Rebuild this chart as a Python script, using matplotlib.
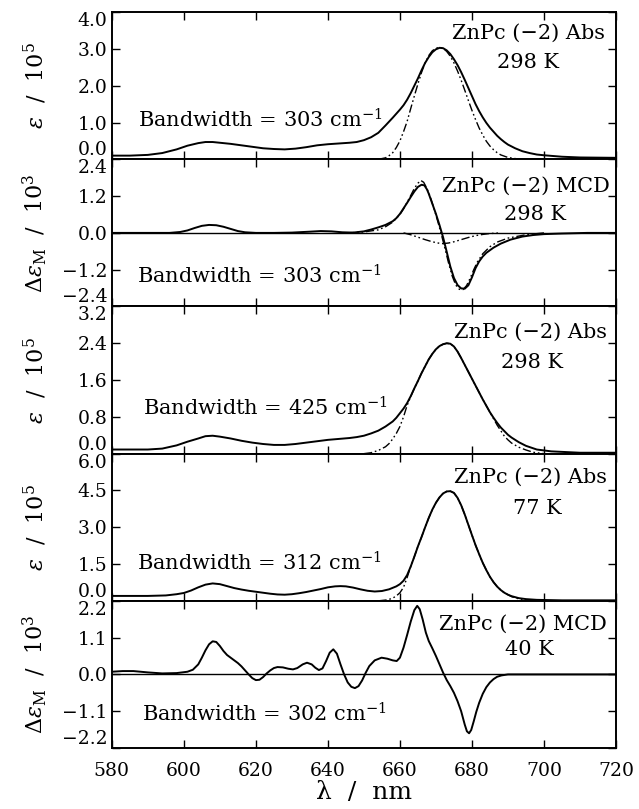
import matplotlib
matplotlib.use("Agg")
import matplotlib.pyplot as plt

plt.rcParams['font.family'] = 'DejaVu Serif'
plt.rcParams['mathtext.fontset'] = 'dejavuserif'

# --- ZnPc(-2) Abs, 298 K, bandwidth 303 cm-1 ---
wl_abs1 = [580, 585, 590, 594, 598, 601, 604, 606, 608, 610, 613, 616, 619, 622,
           625, 628, 631, 634, 637, 640, 643, 646, 648, 650, 652, 654, 656, 658,
           660, 661, 662, 663, 664, 665, 666, 667, 668, 669, 670, 671, 672, 673,
           674, 675, 676, 677, 678, 679, 680, 681, 682, 683, 684, 685, 686, 687,
           688, 689, 690, 692, 694, 696, 698, 700, 705, 710, 720]
eps_abs1 = [0.10, 0.10, 0.12, 0.17, 0.27, 0.37, 0.44, 0.47, 0.47, 0.45, 0.42, 0.38,
            0.34, 0.30, 0.28, 0.27, 0.29, 0.33, 0.38, 0.41, 0.43, 0.45, 0.47, 0.52,
            0.60, 0.72, 0.92, 1.13, 1.35, 1.47, 1.62, 1.80, 2.00, 2.20, 2.42, 2.62,
            2.78, 2.91, 2.99, 3.03, 3.02, 2.96, 2.86, 2.72, 2.56, 2.37, 2.16, 1.94,
            1.72, 1.50, 1.31, 1.14, 0.99, 0.86, 0.75, 0.64, 0.55, 0.47, 0.40, 0.30,
            0.22, 0.17, 0.13, 0.11, 0.07, 0.05, 0.04]
wl_fit1 = [654, 656, 657, 658, 659, 660, 661, 662, 663, 664, 665, 666, 667, 668,
           669, 670, 671, 672, 673, 674, 675, 676, 677, 678, 679, 680, 681, 682,
           683, 684, 685, 686, 687, 688, 690, 692, 694]
eps_fit1 = [0.0, 0.04, 0.10, 0.18, 0.32, 0.50, 0.75, 1.03, 1.38, 1.72, 2.05, 2.36,
            2.62, 2.82, 2.95, 3.02, 3.04, 3.02, 2.93, 2.80, 2.62, 2.40, 2.15, 1.88,
            1.60, 1.33, 1.08, 0.85, 0.66, 0.49, 0.36, 0.26, 0.18, 0.12, 0.05, 0.02,
            0.0]

# --- ZnPc(-2) MCD, 298 K, bandwidth 303 cm-1 ---
wl_mcd1 = [580, 596, 599, 601, 603, 605, 607, 609, 611, 613, 615, 617, 620, 625,
           630, 635, 638, 641, 644, 647, 650, 652, 654, 656, 658, 659, 660, 661,
           662, 663, 664, 665, 666, 666.8, 667.5, 668, 669, 670, 671, 672, 673,
           674, 675, 676, 677, 678, 679, 680, 681, 682, 683, 684, 686, 688, 690.7,
           694, 697, 700, 705, 712, 720]
dem_mcd1 = [0.0, 0.0, 0.03, 0.08, 0.16, 0.23, 0.26, 0.25, 0.20, 0.13, 0.06, 0.02,
            0.0, 0.0, 0.01, 0.04, 0.06, 0.05, 0.02, 0.01, 0.05, 0.11, 0.18, 0.26,
            0.38, 0.48, 0.62, 0.80, 0.98, 1.17, 1.35, 1.50, 1.57, 1.55, 1.42, 1.28,
            0.95, 0.62, 0.25, -0.15, -0.62, -1.10, -1.47, -1.70, -1.81, -1.82, -1.71,
            -1.45, -1.15, -0.93, -0.77, -0.65, -0.48, -0.35, -0.22, -0.12, -0.07,
            -0.04, -0.02, 0.0, 0.0]
wl_afit = [645, 650, 654, 656, 658, 660, 661, 662, 663, 664, 665, 665.8, 666.6,
           667.5, 668.5, 669.5, 670.5, 671.5, 672.5, 673.5, 674.5, 675.5, 676.5,
           677.5, 678.5, 679.5, 680.5, 681.5, 683, 685, 687, 690, 695, 700]
dem_afit = [0.0, 0.03, 0.10, 0.20, 0.35, 0.60, 0.78, 1.00, 1.22, 1.45, 1.62, 1.71,
            1.65, 1.45, 1.15, 0.78, 0.38, -0.05, -0.50, -0.98, -1.40, -1.70, -1.84,
            -1.85, -1.72, -1.48, -1.20, -0.95, -0.68, -0.45, -0.30, -0.17, -0.06,
            0.0]
wl_bfit = [661, 663, 665, 667, 669, 671, 672, 673.5, 675, 677, 679, 681, 683, 685,
           688]
dem_bfit = [0.0, -0.06, -0.14, -0.22, -0.29, -0.34, -0.35, -0.33, -0.29, -0.22,
            -0.15, -0.09, -0.05, -0.02, 0.0]

# --- ZnPc(-2) Abs, 298 K, bandwidth 425 cm-1 ---
wl_abs2 = [580, 590, 594, 598, 601, 604, 606, 608, 610, 613, 616, 619, 622, 625,
           628, 631, 634, 637, 640, 643, 646, 648, 650, 652, 654, 656, 658, 659,
           660, 661, 662, 663, 664, 665, 666, 667, 668, 669, 670, 671, 672, 673,
           674, 675, 676, 677, 678, 679, 680, 681, 682, 683, 684, 685, 686, 687,
           688, 689, 690, 691, 693, 695, 698, 702, 710, 720]
eps_abs2 = [0.09, 0.09, 0.11, 0.18, 0.26, 0.33, 0.38, 0.39, 0.37, 0.33, 0.28, 0.24,
            0.21, 0.19, 0.19, 0.21, 0.24, 0.27, 0.30, 0.32, 0.34, 0.36, 0.39, 0.44,
            0.50, 0.59, 0.70, 0.78, 0.88, 0.98, 1.10, 1.25, 1.42, 1.58, 1.75, 1.90,
            2.05, 2.17, 2.27, 2.34, 2.38, 2.40, 2.39, 2.33, 2.22, 2.08, 1.93, 1.78,
            1.63, 1.48, 1.33, 1.18, 1.04, 0.90, 0.78, 0.67, 0.57, 0.49, 0.41, 0.35,
            0.25, 0.17, 0.09, 0.05, 0.02, 0.02]
wl_fit2 = [650, 652, 654, 656, 657, 658, 659, 660, 661, 662, 663, 664, 665, 666,
           667, 668, 669, 670, 671, 672, 673, 674, 675, 676, 677, 678, 679, 680,
           681, 682, 683, 684, 685, 686, 687, 688, 689, 690, 691, 693, 695, 697,
           700]
eps_fit2 = [0.0, 0.02, 0.07, 0.15, 0.22, 0.32, 0.44, 0.59, 0.80, 1.05, 1.24, 1.42,
            1.58, 1.75, 1.90, 2.05, 2.17, 2.27, 2.34, 2.38, 2.40, 2.39, 2.33, 2.22,
            2.08, 1.93, 1.78, 1.63, 1.48, 1.33, 1.18, 1.04, 0.90, 0.76, 0.62, 0.50,
            0.38, 0.30, 0.23, 0.14, 0.08, 0.03, 0.0]

# --- ZnPc(-2) Abs, 77 K, bandwidth 312 cm-1 ---
wl_abs3 = [580, 590, 595, 598, 600, 602, 604, 606, 608, 610, 612, 614, 616, 618,
           620, 622, 624, 626, 628, 630, 632, 634, 636, 638, 640, 642, 643.5, 645,
           647, 649, 651, 653, 655, 657, 659, 660, 661, 662, 663, 664, 665, 666,
           667, 668, 669, 670, 671, 672, 673, 674, 675, 676, 677, 678, 679, 680,
           681, 682, 683, 684, 685, 686, 687, 688, 689, 690, 691, 693, 695, 698,
           705, 720]
eps_abs3 = [0.20, 0.20, 0.22, 0.27, 0.32, 0.42, 0.55, 0.66, 0.71, 0.68, 0.60, 0.52,
            0.46, 0.41, 0.37, 0.33, 0.29, 0.26, 0.25, 0.27, 0.31, 0.36, 0.42, 0.48,
            0.55, 0.59, 0.60, 0.59, 0.54, 0.47, 0.41, 0.38, 0.40, 0.47, 0.59, 0.68,
            0.82, 1.05, 1.40, 1.80, 2.22, 2.60, 3.00, 3.38, 3.72, 4.00, 4.22, 4.38,
            4.46, 4.47, 4.40, 4.20, 3.90, 3.52, 3.10, 2.68, 2.27, 1.90, 1.55, 1.25,
            0.98, 0.76, 0.58, 0.44, 0.33, 0.25, 0.19, 0.11, 0.07, 0.04, 0.02, 0.02]
wl_fit3 = [654, 656, 657, 658, 659, 660, 661, 662, 663, 664, 665, 666, 667, 668,
           669, 670, 671, 672, 673, 674, 675, 676, 677, 678, 679, 680, 681, 682,
           683, 684, 685, 686, 687, 688, 689, 690, 691, 693, 695, 698, 702]
eps_fit3 = [0.0, 0.03, 0.06, 0.11, 0.20, 0.33, 0.55, 0.95, 1.40, 1.80, 2.22, 2.60,
            3.00, 3.38, 3.72, 4.00, 4.22, 4.38, 4.46, 4.47, 4.40, 4.20, 3.90, 3.52,
            3.10, 2.68, 2.27, 1.90, 1.55, 1.25, 0.98, 0.76, 0.58, 0.44, 0.33, 0.25,
            0.17, 0.08, 0.04, 0.01, 0.0]

# --- ZnPc(-2) MCD, 40 K, bandwidth 302 cm-1 ---
wl_mcd2 = [580, 583, 586, 590, 594, 598, 601, 602.5, 604, 605, 606, 607, 608, 609,
           610, 611, 612, 613, 614, 615, 616, 617, 618, 619, 620, 621, 622, 623,
           624, 625, 626, 627.5, 629, 630.3, 631.5, 633, 634.2, 635.5, 636.5,
           637.5, 638.5, 639.5, 640.5, 641.5, 642.5, 643.5, 644.5, 645.5, 646.5,
           647.5, 648.5, 649.5, 650.5, 651.5, 653, 654.9, 656.5, 658, 659.1, 660,
           661, 662, 663, 664, 664.8, 665.5, 666.3, 667.2, 668, 669, 670, 671, 672,
           673, 674, 675, 676, 677, 678, 678.6, 679.2, 679.8, 680.5, 681.2, 682,
           683, 684, 685, 686, 687, 688.2, 690, 720]
dem_mcd2 = [0.08, 0.10, 0.10, 0.06, 0.03, 0.04, 0.08, 0.14, 0.30, 0.50, 0.72, 0.90,
            0.99, 0.97, 0.85, 0.70, 0.58, 0.50, 0.42, 0.34, 0.24, 0.12, 0.0, -0.11,
            -0.17, -0.16, -0.08, 0.03, 0.12, 0.19, 0.22, 0.21, 0.17, 0.15, 0.19,
            0.30, 0.35, 0.30, 0.20, 0.13, 0.18, 0.40, 0.65, 0.75, 0.62, 0.30, 0.0,
            -0.24, -0.37, -0.41, -0.35, -0.18, 0.05, 0.25, 0.42, 0.50, 0.47, 0.42,
            0.40, 0.50, 0.80, 1.18, 1.58, 1.92, 2.05, 1.95, 1.65, 1.25, 1.00, 0.78,
            0.55, 0.30, 0.05, -0.17, -0.35, -0.55, -0.80, -1.10, -1.50, -1.70,
            -1.76, -1.66, -1.40, -1.12, -0.85, -0.58, -0.38, -0.24, -0.14, -0.07,
            -0.03, 0.0, 0.0]

xticks = [580, 600, 620, 640, 660, 680, 700, 720]
panel_yticks = [
    [0.0, 1.0, 2.0, 3.0, 4.0],
    [-2.4, -1.2, 0.0, 1.2, 2.4],
    [0.0, 0.8, 1.6, 2.4, 3.2],
    [0.0, 1.5, 3.0, 4.5, 6.0],
    [-2.2, -1.1, 0.0, 1.1, 2.2],
]
abs_label = r'$\epsilon$  /  10$^5$'
mcd_label = r'$\Delta\epsilon_{\mathrm{M}}$  /  10$^3$'
panel_ylabels = [abs_label, mcd_label, abs_label, abs_label, mcd_label]
titles = ['ZnPc (\u22122) Abs', 'ZnPc (\u22122) MCD', 'ZnPc (\u22122) Abs',
          'ZnPc (\u22122) Abs', 'ZnPc (\u22122) MCD']
temps = ['298 K', '298 K', '298 K', '77 K', '40 K']
bandwidths = ['303', '303', '425', '312', '302']

# text placement (axes fraction): title right edge / baseline, temperature centre / baseline,
# bandwidth left edge / baseline
title_pos = [(0.978, 0.816), (0.988, 0.776), (0.982, 0.789), (0.982, 0.803), (0.982, 0.80)]
temp_pos = [(0.825, 0.619), (0.839, 0.585), (0.833, 0.585), (0.843, 0.592), (0.829, 0.633)]
bw_pos = [(0.052, 0.218), (0.050, 0.156), (0.062, 0.259), (0.050, 0.204), (0.060, 0.177)]

dashdot = (0, (6, 2, 1.2, 2, 1.2, 2))

fig = plt.figure(figsize=(6.39, 8.09), dpi=100)
axes = fig.subplots(5, 1, sharex=True, gridspec_kw=dict(hspace=0))
fig.subplots_adjust(left=0.175, right=0.964, top=0.985, bottom=0.0754)

ax1, ax2, ax3, ax4, ax5 = axes
ax1.plot(wl_abs1, eps_abs1, color='k', lw=1.4)
ax1.plot(wl_fit1, eps_fit1, color='k', lw=1.0, ls=dashdot)

ax2.axhline(0, color='k', lw=1.0)
ax2.plot(wl_mcd1, dem_mcd1, color='k', lw=1.4)
ax2.plot(wl_afit, dem_afit, color='k', lw=1.0, ls=dashdot)
ax2.plot(wl_bfit, dem_bfit, color='k', lw=1.0, ls=dashdot)

ax3.plot(wl_abs2, eps_abs2, color='k', lw=1.4)
ax3.plot(wl_fit2, eps_fit2, color='k', lw=1.0, ls=dashdot)

ax4.plot(wl_abs3, eps_abs3, color='k', lw=1.4)
ax4.plot(wl_fit3, eps_fit3, color='k', lw=1.0, ls=dashdot)

ax5.axhline(0, color='k', lw=1.0)
ax5.plot(wl_mcd2, dem_mcd2, color='k', lw=1.4)

for i, ax in enumerate(axes):
    yt = panel_yticks[i]
    ax.set_ylim(yt[0], yt[-1])
    ax.set_yticks(yt, labels=[f'{v:.1f}'.replace('-', '\u2212') for v in yt])
    ylabs = ax.get_yticklabels()
    ylabs[0].set_va('bottom')
    ylabs[-1].set_va('top')
    ax.set_xlim(580, 720)
    ax.set_xticks(xticks)
    ax.tick_params(direction='in', top=True, right=True, length=6, width=1.0,
                   labelsize=13.5)
    ax.tick_params(axis='y', pad=3)
    ax.tick_params(axis='x', pad=10)
    for sp in ax.spines.values():
        sp.set_linewidth(1.4)
    ax.set_ylabel(panel_ylabels[i], fontsize=16)
    ax.yaxis.set_label_coords(-0.125, 0.5)

    ax.text(*title_pos[i], titles[i], transform=ax.transAxes, ha='right',
            va='baseline', fontsize=15)
    ax.text(*temp_pos[i], temps[i], transform=ax.transAxes, ha='center',
            va='baseline', fontsize=15)
    ax.text(*bw_pos[i], f'Bandwidth = {bandwidths[i]} cm$^{{-1}}$',
            transform=ax.transAxes, ha='left', va='baseline', fontsize=15)

ax5.set_xlabel('\u03bb  /  nm', fontsize=18, labelpad=1)

fig.savefig('out.png', dpi=100)
